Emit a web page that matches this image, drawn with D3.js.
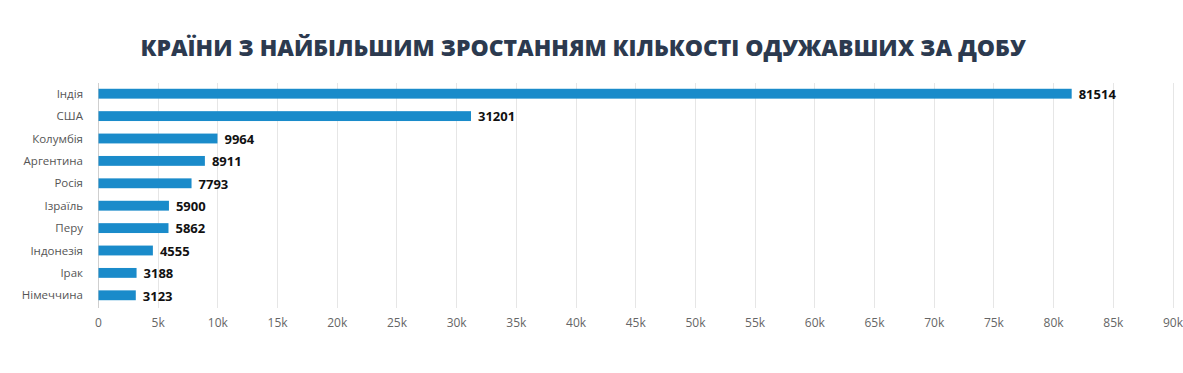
<!DOCTYPE html>
<html>
<head>
<meta charset="utf-8">
<script src="https://cdn.jsdelivr.net/npm/d3@7"></script>
<style>
  body { margin: 0; background: #fff; }
  svg { display: block; }
</style>
</head>
<body>
<div id="chart"></div>
<script>
// data
const countries = ["Індія", "США", "Колумбія", "Аргентина", "Росія", "Ізраїль", "Перу", "Індонезія", "Ірак", "Німеччина"];
const recovered = [81514, 31201, 9964, 8911, 7793, 5900, 5862, 4555, 3188, 3123];
const tickValues = [0, 5000, 10000, 15000, 20000, 25000, 30000, 35000, 40000, 45000, 50000, 55000, 60000, 65000, 70000, 75000, 80000, 85000, 90000];
const tickLabels = ["0", "5k", "10k", "15k", "20k", "25k", "30k", "35k", "40k", "45k", "50k", "55k", "60k", "65k", "70k", "75k", "80k", "85k", "90k"];
const title = "КРАЇНИ З НАЙБІЛЬШИМ ЗРОСТАННЯМ КІЛЬКОСТІ ОДУЖАВШИХ ЗА ДОБУ";

const width = 1183, height = 373;
const margin = { top: 83, right: 10, bottom: 66, left: 98.5 };
const plotRight = 1173;

const svg = d3.select("#chart").append("svg")
  .attr("width", width)
  .attr("height", height);

// title
const t = svg.append("text")
  .attr("x", 583)
  .attr("y", 56)
  .attr("text-anchor", "middle")
  .style("font-family", "'Open Sans', sans-serif")
  .style("font-weight", 800)
  .style("font-size", "22px")
  .attr("fill", "#2c3a4f")
  .text(title);
// squeeze title into reference width
const tw = t.node().getComputedTextLength();
if (tw > 0) t.attr("textLength", 885).attr("lengthAdjust", "spacingAndGlyphs");

const x = d3.scaleLinear().domain([0, 90000]).range([margin.left, plotRight]);
const y = d3.scaleBand().domain(countries).range([82.5, 306.5]).paddingInner(0.56).paddingOuter(0.28);

// grid
svg.append("g")
  .selectAll("line")
  .data(tickValues)
  .join("line")
  .attr("x1", d => x(d)).attr("x2", d => x(d))
  .attr("y1", 83).attr("y2", 308)
  .attr("stroke", d => d === 0 ? "#cfcfcf" : "#e6e6e6")
  .attr("stroke-width", 1)
  .attr("shape-rendering", "crispEdges");

// x axis labels
svg.append("g")
  .selectAll("text")
  .data(tickValues)
  .join("text")
  .attr("x", d => x(d))
  .attr("y", 327)
  .attr("text-anchor", "middle")
  .style("font-family", "'Open Sans', sans-serif")
  .style("font-size", "12px")
  .attr("fill", "#666")
  .text((d, i) => tickLabels[i]);

// category labels
svg.append("g")
  .selectAll("text")
  .data(countries)
  .join("text")
  .attr("x", 83)
  .attr("y", d => y(d) + y.bandwidth() / 2)
  .attr("dy", "0.35em")
  .attr("text-anchor", "end")
  .style("font-family", "'Open Sans', sans-serif")
  .style("font-size", "11.5px")
  .attr("fill", "#555")
  .text(d => d);

// bars
svg.append("g")
  .selectAll("rect")
  .data(countries)
  .join("rect")
  .attr("x", x(0))
  .attr("y", (d) => y(d))
  .attr("width", (d, i) => x(recovered[i]) - x(0))
  .attr("height", y.bandwidth())
  .attr("fill", "#1a8bca");

// value labels
svg.append("g")
  .selectAll("text")
  .data(countries)
  .join("text")
  .attr("x", (d, i) => x(recovered[i]) + 7)
  .attr("y", d => y(d) + y.bandwidth() / 2)
  .attr("dy", "0.4em")
  .style("font-family", "'Open Sans', sans-serif")
  .style("font-weight", 700)
  .style("font-size", "13px")
  .attr("fill", "#111")
  .text((d, i) => recovered[i]);
</script>
</body>
</html>
